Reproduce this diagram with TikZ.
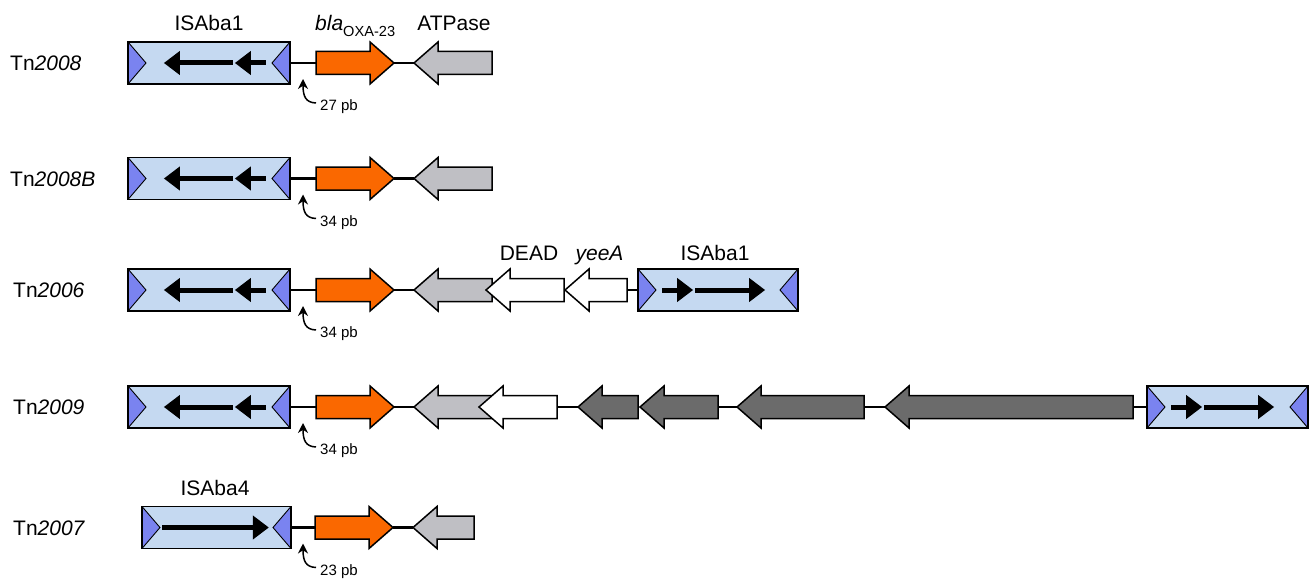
\documentclass[tikz,border=0pt]{standalone}
\usepackage{fontspec}
\setmainfont{Liberation Sans}
\usetikzlibrary{arrows.meta}
\definecolor{isblue}{RGB}{197,217,241}
\definecolor{istip}{RGB}{122,131,240}
\definecolor{oxa}{RGB}{250,104,0}
\definecolor{atpase}{RGB}{191,191,196}
\definecolor{darkgene}{RGB}{107,107,107}
\tikzstyle{backbone}=[line width=2.2pt]
\tikzstyle{genebody}=[draw=black,line width=1.5pt,line join=miter]
\tikzstyle{isbox}=[draw=black,line width=1.7pt,fill=isblue,inner sep=0pt,minimum height=42pt,
  path picture={\filldraw[fill=istip,draw=black,line width=0.9pt] (path picture bounding box.north west) -- ([xshift=18pt]path picture bounding box.west) -- (path picture bounding box.south west) -- cycle;
  \filldraw[fill=istip,draw=black,line width=0.9pt] (path picture bounding box.north east) -- ([xshift=-18pt]path picture bounding box.east) -- (path picture bounding box.south east) -- cycle;}]
\tikzstyle{isarrow}=[line width=5pt,-{Triangle[length=16pt,width=23pt]}]
\tikzstyle{genename}=[font=\fontsize{21}{25}\selectfont,inner sep=0pt,anchor=base]
\tikzstyle{tnname}=[font=\fontsize{21}{25}\selectfont,inner sep=0pt,anchor=base west]
\tikzstyle{pbtext}=[font=\fontsize{15}{18}\selectfont,inner sep=0pt,anchor=west]
\tikzstyle{pbarrow}=[line width=1.5pt,-{Stealth[length=10pt,width=10pt]}]
\newcommand{\gene}[5][atpase]{% Syntax: [fill] {name}{tail x}{tip x}{y}
\pgfmathsetmacro{\genedir}{sign(#4-#3)}
\pgfmathsetmacro{\genehb}{#4-24*\genedir} % base of the head
\draw[genebody,fill=#1] (#3,#5-11.5) -- (\genehb,#5-11.5) -- (\genehb,#5-21) -- (#4,#5) -- (\genehb,#5+21) -- (\genehb,#5+11.5) -- (#3,#5+11.5) -- cycle;
\coordinate (#2-t) at (#3,#5);
\coordinate (#2-h) at (#4,#5);
}
\newcommand{\ISleft}[1]{% two heads, pointing left
\draw[isarrow] ([xshift=-25pt]#1.east) -- ([xshift=-56pt]#1.east);
\draw[isarrow] ([xshift=-58pt]#1.east) -- ([xshift=-127pt]#1.east);
}
\newcommand{\ISright}[1]{% two heads, pointing right
\draw[isarrow] ([xshift=25pt]#1.west) -- ([xshift=56pt]#1.west);
\draw[isarrow] ([xshift=58pt]#1.west) -- ([xshift=128pt]#1.west);
}
\newcommand{\pbgap}[3]{% Syntax: {name}{row y}{text}
\node[pbtext] (#1) at (320,#2+44) {#3};
\coordinate (#1-a) at (316,#2+40);
\coordinate (#1-b) at (303,#2+16);
\draw[pbarrow] (#1-a) .. controls (306,#2+39.5) and (303,#2+34) .. (#1-b);
}
\begin{document}
\begin{tikzpicture}[x=1pt,y=-1pt]
\useasboundingbox (0,0) rectangle (1311,583);
% Tn2008
\node[tnname] (tn1) at (10,70.5) {Tn\textit{2008}};
\node[isbox,minimum width=162pt] (is1) at (209,63) {};
\ISleft{is1}
\gene[oxa]{oxa1}{316}{394}{63}
\gene{atp1}{492}{414}{63}
\draw[backbone] (is1.east) -- (oxa1-t);
\draw[backbone] (oxa1-h) -- (atp1-h);
\pbgap{pb1}{63}{27 pb}
\node[genename] (n-is1) at (209,31) {ISAba1};
\node[genename,anchor=base west] (n-oxa) at (315,31) {\textit{bla}\raisebox{-6pt}{\fontsize{14.6}{16}\selectfont OXA-23}};
\node[genename] (n-atp) at (454,31) {ATPase};
% Tn2008B
\node[tnname] (tn2) at (10,186) {Tn\textit{2008B}};
\node[isbox,minimum width=162pt] (is2) at (209,178.5) {};
\ISleft{is2}
\gene[oxa]{oxa2}{316}{394}{178.5}
\gene{atp2}{492}{414}{178.5}
\draw[backbone] (is2.east) -- (oxa2-t);
\draw[backbone] (oxa2-h) -- (atp2-h);
\pbgap{pb2}{178.5}{34 pb}
% Tn2006
\node[tnname] (tn3) at (13,297.5) {Tn\textit{2006}};
\node[isbox,minimum width=162pt] (is3) at (209,290) {};
\ISleft{is3}
\gene[oxa]{oxa3}{316}{394}{290}
\gene{atp3}{492}{414}{290}
\gene[white]{dead3}{564}{486}{290}
\gene[white]{yee3}{627}{565}{290}
\node[isbox,minimum width=160pt] (is3b) at (718,290) {};
\ISright{is3b}
\draw[backbone] (is3.east) -- (oxa3-t);
\draw[backbone] (oxa3-h) -- (atp3-h);
\draw[backbone] (yee3-t) -- (is3b.west);
\pbgap{pb3}{290}{34 pb}
\node[genename] (n-dead) at (529,260) {DEAD};
\node[genename] (n-yee) at (599.5,260) {\textit{yeeA}};
\node[genename] (n-is3b) at (715,260) {ISAba1};
% Tn2009
\node[tnname] (tn4) at (13,414.5) {Tn\textit{2009}};
\node[isbox,minimum width=162pt] (is4) at (209,407) {};
\ISleft{is4}
\gene[oxa]{oxa4}{316}{394}{407}
\gene{atp4}{492}{414}{407}
\gene[white]{dead4}{557}{479}{407}
\gene[darkgene]{d1}{638}{578}{407}
\gene[darkgene]{d2}{718}{640}{407}
\gene[darkgene]{d3}{864}{737}{407}
\gene[darkgene]{d4}{1133}{885}{407}
\node[isbox,minimum width=161pt] (is4b) at (1227.5,407) {};
\ISright{is4b}
\draw[backbone] (is4.east) -- (oxa4-t);
\draw[backbone] (oxa4-h) -- (atp4-h);
\draw[backbone] (dead4-t) -- (d1-h);
\draw[backbone] (d2-t) -- (d3-h);
\draw[backbone] (d3-t) -- (d4-h);
\draw[backbone] (d4-t) -- (is4b.west);
\pbgap{pb4}{407}{34 pb}
% Tn2007
\node[tnname] (tn5) at (13,535) {Tn\textit{2007}};
\node[isbox,minimum width=149pt] (is5) at (216.5,527.5) {};
\draw[isarrow] ([xshift=21pt]is5.west) -- ([xshift=-23pt]is5.east);
\gene[oxa]{oxa5}{315}{393}{527.5}
\gene{atp5}{474}{413}{527.5}
\draw[backbone] (is5.east) -- (oxa5-t);
\draw[backbone] (oxa5-h) -- (atp5-h);
\pbgap{pb5}{527.5}{23 pb}
\node[genename] (n-is5) at (215,495) {ISAba4};
\end{tikzpicture}
\end{document}
